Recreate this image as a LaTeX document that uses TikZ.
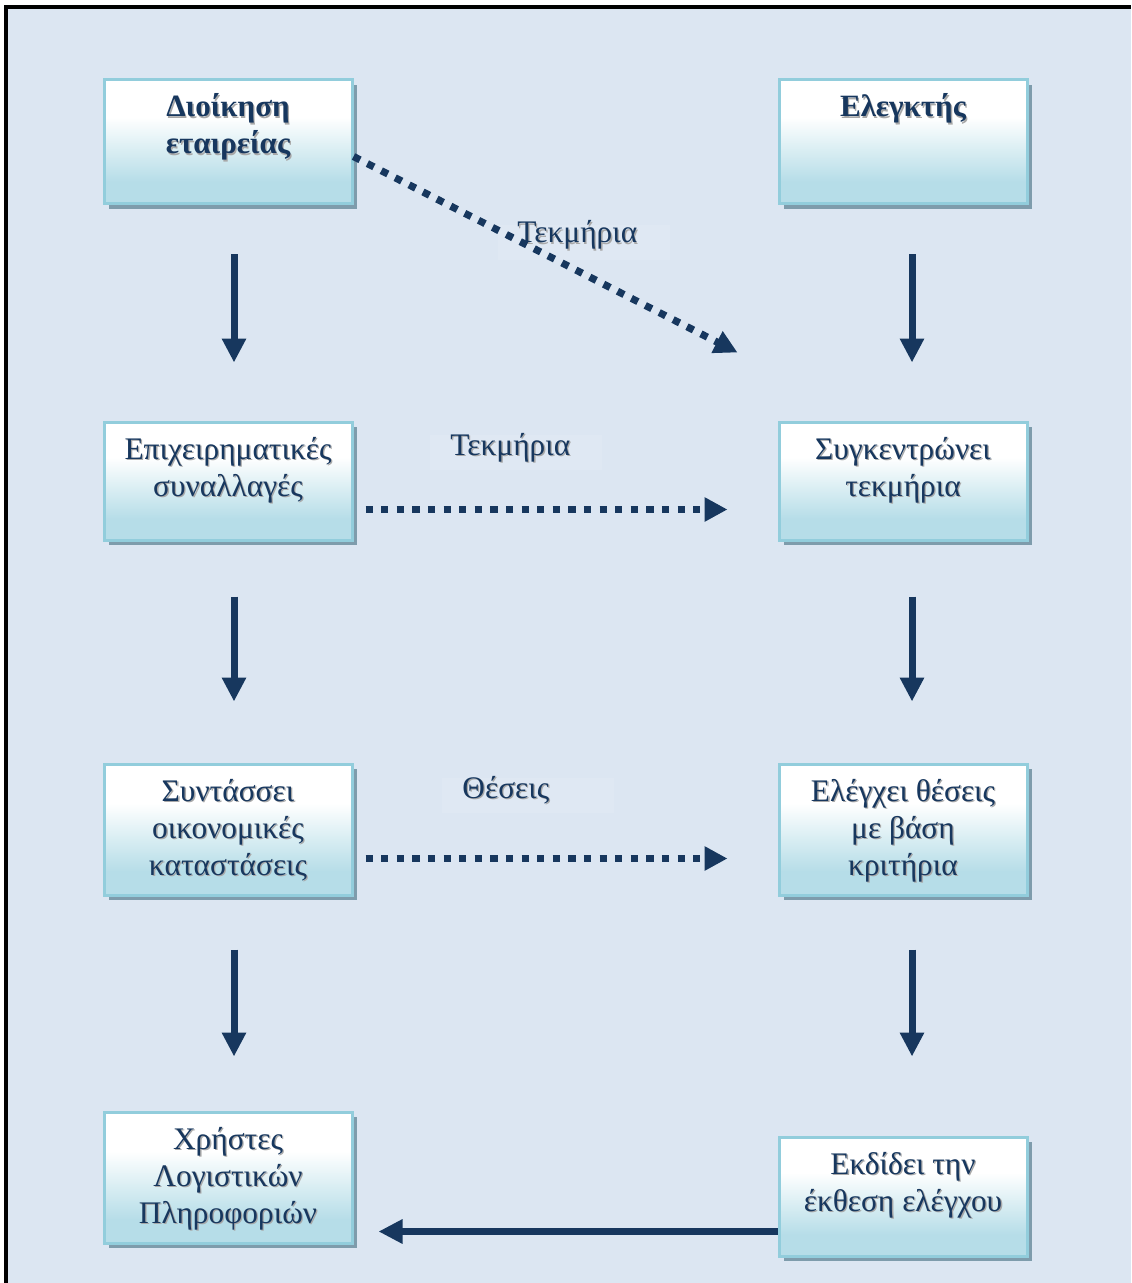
\documentclass[tikz,border=0pt]{standalone}
\usepackage{fontspec}
\setmainfont{Liberation Serif}
\usetikzlibrary{arrows.meta,calc,shadows}

\definecolor{pagebg}{HTML}{DCE6F2}
\definecolor{navy}{HTML}{17375E}
\definecolor{boxedge}{HTML}{92CDDC}
\definecolor{boxlow}{HTML}{B6DDE8}
\definecolor{boxmid}{HTML}{DAEEF3}
\definecolor{boxshade}{HTML}{7E9CAC}
\definecolor{glyphshade}{HTML}{A8A8A8}
\definecolor{labelbg}{HTML}{DFE8F3}

% white at the top fading into light blue towards the bottom
\pgfdeclareverticalshading{stagefill}{100bp}{%
  color(0bp)=(boxlow); color(34bp)=(boxlow); color(47bp)=(boxmid);
  color(60bp)=(white); color(100bp)=(white)}

\tikzset{
  stage/.style={draw=boxedge, line width=1.5pt, shading=stagefill,
    minimum width=124pt, inner sep=0pt, anchor=north,
    general shadow={fill=boxshade, shadow xshift=2.5pt, shadow yshift=-2.5pt}},
  stagetext/.style={text=navy, font=\fontsize{15.7pt}{18.5pt}\selectfont,
    align=center, inner sep=0pt, anchor=base},
  headtext/.style={stagetext, font=\fontsize{15.5pt}{18.5pt}\selectfont\bfseries},
  labelpane/.style={fill=labelbg, inner sep=0pt, minimum width=86pt,
    minimum height=17.5pt, anchor=south west},
  labeltext/.style={text=navy, font=\fontsize{15.7pt}{18.5pt}\selectfont,
    inner sep=0pt, anchor=base west},
  flow/.style={draw=navy, line width=3.5pt,
    -{Triangle[length=12pt,width=11.5pt]}},
  hint/.style={draw=navy, line width=3.6pt, dash pattern=on 3.65pt off 4.15pt,
    -{Triangle[length=11.5pt,width=11.5pt]}},
}

% text with a soft grey copy just below and to the right of it
\newcommand\castlabel[4]{%
  \node[#3, text=glyphshade] (#1-cast) at ($(#2)+(1.3,1.3)$) {#4};
  \node[#3] (#1) at (#2) {#4};}

\begin{document}
\begin{tikzpicture}[x=0.5pt, y=-0.5pt]
  \useasboundingbox (0,0) rectangle (1131,1283);
  \fill[white] (0,0) rectangle (1131,1283);
  \fill[pagebg] (6,7) rectangle (1131,1283);
  \draw[black, line width=2pt] (6,1283) -- (6,7) -- (1131,7);

  % company side
  \node[stage, minimum height=62pt]   (b1) at (228,78.5)   {};
  \node[stage, minimum height=59pt]   (b3) at (228,420.5)  {};
  \node[stage, minimum height=65.5pt] (b5) at (228,762.5)  {};
  \node[stage, minimum height=65.5pt] (b7) at (228,1110.5) {};
  % auditor side
  \node[stage, minimum height=62pt]   (b2) at (903,78.5)   {};
  \node[stage, minimum height=59pt]   (b4) at (903,420.5)  {};
  \node[stage, minimum height=65.5pt] (b6) at (903,762.5)  {};
  \node[stage, minimum height=59.5pt] (b8) at (903,1135.5) {};

  % the base anchor sits on the last line, so each offset adds 37 per extra line
  \castlabel{t1}{$(b1.north)+(0,75.5)$}{headtext}{Διοίκηση\\εταιρείας}
  \castlabel{t2}{$(b2.north)+(0,38.5)$}{headtext}{Ελεγκτής}
  \castlabel{t3}{$(b3.north)+(0,75.5)$}{stagetext}{Επιχειρηματικές\\συναλλαγές}
  \castlabel{t4}{$(b4.north)+(0,75.5)$}{stagetext}{Συγκεντρώνει\\τεκμήρια}
  \castlabel{t5}{$(b5.north)+(0,112.5)$}{stagetext}{Συντάσσει\\οικονομικές\\καταστάσεις}
  \castlabel{t6}{$(b6.north)+(0,112.5)$}{stagetext}{Ελέγχει θέσεις\\με βάση\\κριτήρια}
  \castlabel{t7}{$(b7.north)+(0,112.5)$}{stagetext}{Χρήστες\\Λογιστικών\\Πληροφοριών}
  \castlabel{t8}{$(b8.north)+(0,75.5)$}{stagetext}{Εκδίδει την\\έκθεση ελέγχου}

  % labels on the evidence links
  \node[labelpane] (p1) at (498,260) {};
  \node[labelpane] (p2) at (430,470) {};
  \node[labelpane] (p3) at (442,813) {};
  \castlabel{l1}{$(p1.south west)+(19,-17)$}{labeltext}{Τεκμήρια}
  \castlabel{l2}{$(p2.south west)+(20,-15)$}{labeltext}{Τεκμήρια}
  \castlabel{l3}{$(p3.south west)+(20,-15)$}{labeltext}{Θέσεις}

  % vertical flow, company side
  \coordinate (s1) at ($(b1.south)+(6,49)$);   \coordinate (e1) at ($(b3.north)+(6,-58)$);
  \coordinate (s3) at ($(b3.south)+(6,55)$);   \coordinate (e3) at ($(b5.north)+(6,-61)$);
  \coordinate (s5) at ($(b5.south)+(6,53)$);   \coordinate (e5) at ($(b7.north)+(6,-54)$);
  \draw[flow] (s1) -- (e1);
  \draw[flow] (s3) -- (e3);
  \draw[flow] (s5) -- (e5);
  % vertical flow, auditor side
  \coordinate (s2) at ($(b2.south)+(9,49)$);   \coordinate (e2) at ($(b4.north)+(9,-58)$);
  \coordinate (s4) at ($(b4.south)+(9,55)$);   \coordinate (e4) at ($(b6.north)+(9,-61)$);
  \coordinate (s6) at ($(b6.south)+(9,53)$);   \coordinate (e6) at ($(b8.north)+(9,-79)$);
  \draw[flow] (s2) -- (e2);
  \draw[flow] (s4) -- (e4);
  \draw[flow] (s6) -- (e6);

  % evidence and assertions passed to the auditor
  \coordinate (d1) at ($(b1.east)+(0,14.5)$);
  \coordinate (f1) at ($(b4.north west)+(-40,-68)$);
  \draw[hint] (d1) -- (f1);
  \coordinate (d3) at ($(b3.east)+(12,28.5)$);
  \coordinate (f3) at ($(b4.west)+(-50,28.5)$);
  \draw[hint] (d3) -- (f3);
  \coordinate (d5) at ($(b5.east)+(12,29)$);
  \coordinate (f5) at ($(b6.west)+(-50,29)$);
  \draw[hint] (d5) -- (f5);

  % audit report delivered to the users
  \coordinate (r8) at ($(b8.west)+(0,35)$);
  \coordinate (r7) at ($(b7.east)+(25,0)$);
  \draw[flow] (r8) -- (r7 |- r8);
\end{tikzpicture}
\end{document}
